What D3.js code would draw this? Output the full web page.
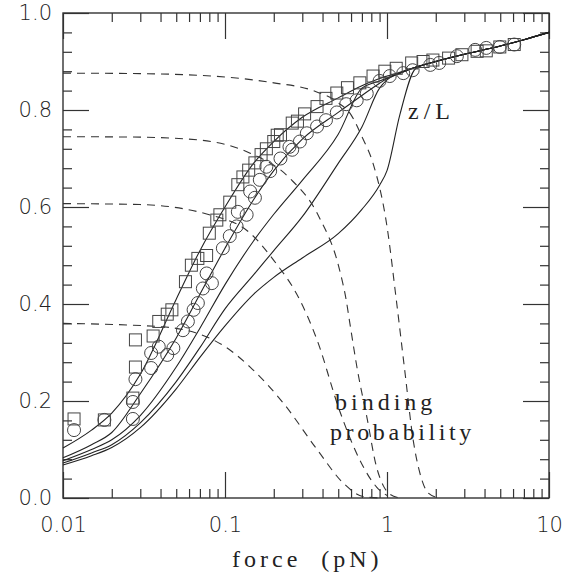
<!DOCTYPE html>
<html>
<head>
<meta charset="utf-8">
<script src="https://cdn.jsdelivr.net/npm/d3@7"></script>
<style>
  body { margin: 0; background: #fff; }
  .tick text { font-family: "DejaVu Sans", sans-serif; font-weight: 200; font-size: 21px; fill: #222; }
  .lbl { font-family: "Liberation Serif", "DejaVu Serif", serif; font-size: 24px; fill: #222; }
</style>
</head>
<body>
<svg id="chart" width="574" height="576"></svg>
<script>
"use strict";

// force grid (pN) shared by the extension curves
const forceGrid = [0.01, 0.015, 0.02, 0.03, 0.05, 0.07, 0.1, 0.15, 0.2, 0.3, 0.5, 0.7, 0.9, 1, 1.2, 1.5, 2, 3, 5, 7, 10];

// z/L model curves
const extA = [0.103, 0.14, 0.175, 0.255, 0.41, 0.51, 0.60, 0.69, 0.735, 0.785, 0.825, 0.85, 0.865, 0.87, 0.878, 0.888, 0.90, 0.915, 0.932, 0.945, 0.96];
const extB = [0.083, 0.11, 0.135, 0.215, 0.33, 0.42, 0.515, 0.615, 0.675, 0.74, 0.795, 0.83, 0.855, 0.865, 0.876, 0.888, 0.90, 0.915, 0.932, 0.945, 0.96];
const extC = [0.077, 0.10, 0.12, 0.17, 0.27, 0.35, 0.44, 0.53, 0.585, 0.655, 0.75, 0.845, 0.86, 0.866, 0.876, 0.888, 0.90, 0.915, 0.932, 0.945, 0.96];
const extD = [0.072, 0.093, 0.11, 0.155, 0.24, 0.31, 0.39, 0.46, 0.51, 0.58, 0.69, 0.765, 0.845, 0.862, 0.876, 0.888, 0.90, 0.915, 0.932, 0.945, 0.96];
const extE = [0.068, 0.087, 0.104, 0.145, 0.225, 0.29, 0.355, 0.42, 0.455, 0.495, 0.545, 0.595, 0.645, 0.675, 0.79, 0.885, 0.90, 0.915, 0.932, 0.945, 0.96];

// binding probability curves (dashed)
const bind1F = [0.01, 0.03, 0.1, 0.2, 0.35, 0.5, 0.6, 0.7, 0.82, 1.0, 1.14, 1.29, 1.45, 1.6, 1.8, 2.1];
const bind1  = [0.876, 0.875, 0.868, 0.856, 0.84, 0.815, 0.79, 0.745, 0.69, 0.56, 0.41, 0.26, 0.12, 0.05, 0.01, 0.0];
const bind2F = [0.01, 0.03, 0.07, 0.143, 0.25, 0.38, 0.51, 0.56, 0.59, 0.66, 0.75, 0.86, 0.95, 1.04, 1.2];
const bind2  = [0.745, 0.744, 0.738, 0.711, 0.66, 0.58, 0.47, 0.408, 0.36, 0.26, 0.168, 0.065, 0.025, 0.008, 0.0];
const bind3F = [0.01, 0.03, 0.08, 0.143, 0.2, 0.29, 0.37, 0.51, 0.68, 0.86, 1.0];
const bind3  = [0.607, 0.605, 0.584, 0.546, 0.49, 0.408, 0.326, 0.18, 0.078, 0.023, 0.005];
const bind4F = [0.01, 0.041, 0.097, 0.143, 0.23, 0.37, 0.54, 0.71, 0.9];
const bind4  = [0.36, 0.353, 0.315, 0.27, 0.195, 0.10, 0.03, 0.003, 0.0];

// measured points [force, z/L]
const squarePts = [[0.0117,0.163],[0.018,0.161],[0.027,0.206],[0.028,0.27],[0.028,0.326],[0.036,0.334],[0.039,0.364],[0.044,0.379],[0.047,0.388],[0.057,0.446],[0.062,0.48],[0.068,0.494],[0.077,0.50],[0.08,0.546],[0.089,0.573],[0.093,0.584],[0.107,0.61],[0.12,0.646],[0.129,0.662],[0.14,0.676],[0.153,0.691],[0.167,0.708],[0.18,0.72],[0.2,0.735],[0.21,0.748],[0.22,0.749],[0.26,0.773],[0.28,0.777],[0.31,0.792],[0.37,0.807],[0.42,0.824],[0.49,0.835],[0.57,0.846],[0.68,0.856],[0.82,0.87],[0.97,0.88],[1.14,0.886],[1.42,0.897],[1.67,0.90],[1.92,0.903],[2.4,0.907],[2.9,0.914],[3.6,0.921],[4.1,0.922],[4.97,0.93],[6.1,0.935]];
const circlePts = [[0.0117,0.14],[0.018,0.161],[0.027,0.198],[0.027,0.163],[0.028,0.245],[0.035,0.299],[0.035,0.268],[0.039,0.312],[0.044,0.295],[0.048,0.309],[0.055,0.346],[0.059,0.364],[0.064,0.388],[0.068,0.402],[0.073,0.432],[0.077,0.463],[0.083,0.443],[0.097,0.515],[0.107,0.54],[0.118,0.56],[0.12,0.59],[0.136,0.584],[0.143,0.632],[0.153,0.619],[0.164,0.656],[0.18,0.683],[0.19,0.674],[0.22,0.70],[0.25,0.724],[0.26,0.718],[0.29,0.735],[0.32,0.752],[0.37,0.766],[0.42,0.779],[0.49,0.795],[0.56,0.812],[0.65,0.82],[0.75,0.834],[0.9,0.86],[1.04,0.87],[1.26,0.876],[1.44,0.882],[1.85,0.893],[2.1,0.897],[2.7,0.911],[3.5,0.924],[4.1,0.928],[4.97,0.93],[6.1,0.935]];

// axis ticks
const xDecades = [0.01, 0.1, 1, 10];
const yMajor = [0, 0.2, 0.4, 0.6, 0.8, 1.0];

const margin = { left: 63, top: 13 },
      width = 486, height = 485;

const svg = d3.select("#chart");
const g = svg.append("g").attr("transform", `translate(${margin.left},${margin.top})`);

const x = d3.scaleLog().domain([0.01, 10]).range([0, width]);
const y = d3.scaleLinear().domain([0, 1]).range([height, 0]);

/* minor ticks for a log decade axis */
const xMinor = [];
xDecades.slice(0, -1).forEach(d => { for (let k = 2; k <= 9; k++) xMinor.push(d * k); });
const yMinor = d3.range(0, 1.0001, 0.04).filter(v => Math.abs(v * 5 - Math.round(v * 5)) > 1e-6);

function drawAxis(axis, transform) {
  const a = g.append("g").attr("transform", transform).call(axis);
  a.select(".domain").remove();
  a.selectAll("line").attr("stroke", "#333").attr("stroke-width", 1.2);
  return a;
}

// bottom
drawAxis(d3.axisBottom(x).tickValues(xDecades).tickSize(-26).tickPadding(19).tickFormat(d3.format("~g")), `translate(0,${height})`);
drawAxis(d3.axisBottom(x).tickValues(xMinor).tickSize(-9).tickFormat(""), `translate(0,${height})`);
// top
drawAxis(d3.axisTop(x).tickValues(xDecades).tickSize(-26).tickFormat(""), "translate(0,0)");
drawAxis(d3.axisTop(x).tickValues(xMinor).tickSize(-9).tickFormat(""), "translate(0,0)");
// left
drawAxis(d3.axisLeft(y).tickValues(yMajor).tickSize(-26).tickPadding(11).tickFormat(d3.format(".1f")), "translate(0,0)");
drawAxis(d3.axisLeft(y).tickValues(yMinor).tickSize(-9).tickFormat(""), "translate(0,0)");
// right
drawAxis(d3.axisRight(y).tickValues(yMajor).tickSize(-26).tickFormat(""), `translate(${width},0)`);
drawAxis(d3.axisRight(y).tickValues(yMinor).tickSize(-9).tickFormat(""), `translate(${width},0)`);

g.append("rect")
  .attr("width", width).attr("height", height)
  .attr("fill", "none").attr("stroke", "#333").attr("stroke-width", 1.4);

const line = d3.line()
  .x(d => x(d[0]))
  .y(d => y(d[1]))
  .curve(d3.curveMonotoneX);

/* solid extension curves */
[extA, extB, extC, extD, extE].forEach(vals => {
  g.append("path")
    .datum(d3.zip(forceGrid, vals))
    .attr("d", line)
    .attr("fill", "none").attr("stroke", "#222").attr("stroke-width", 1.1);
});

/* dashed binding probability curves */
[[bind1F, bind1], [bind2F, bind2], [bind3F, bind3], [bind4F, bind4]].forEach(([fs, vals]) => {
  g.append("path")
    .datum(d3.zip(fs, vals))
    .attr("d", line)
    .attr("fill", "none").attr("stroke", "#333").attr("stroke-width", 1.1)
    .attr("stroke-dasharray", "8,6");
});

/* data markers */
const sq = 12;
g.append("g").selectAll("rect")
  .data(squarePts).enter().append("rect")
  .attr("x", d => x(d[0]) - sq / 2)
  .attr("y", d => y(d[1]) - sq / 2)
  .attr("width", sq).attr("height", sq)
  .attr("fill", "none").attr("stroke", "#444").attr("stroke-width", 1);

g.append("g").selectAll("circle")
  .data(circlePts).enter().append("circle")
  .attr("cx", d => x(d[0]))
  .attr("cy", d => y(d[1]))
  .attr("r", 6.5)
  .attr("fill", "none").attr("stroke", "#444").attr("stroke-width", 1);

/* labels */
svg.append("text").attr("class", "lbl")
  .attr("x", 232).attr("y", 567)
  .style("letter-spacing", "4px")
  .text("force\u00a0\u00a0(pN)");

svg.append("text").attr("class", "lbl")
  .attr("x", 408).attr("y", 119)
  .style("letter-spacing", "5px")
  .text("z/L");

svg.append("text").attr("class", "lbl")
  .attr("x", 335).attr("y", 410)
  .style("letter-spacing", "4px")
  .text("binding");

svg.append("text").attr("class", "lbl")
  .attr("x", 330).attr("y", 440)
  .style("letter-spacing", "3.6px")
  .text("probability");
</script>
</body>
</html>
